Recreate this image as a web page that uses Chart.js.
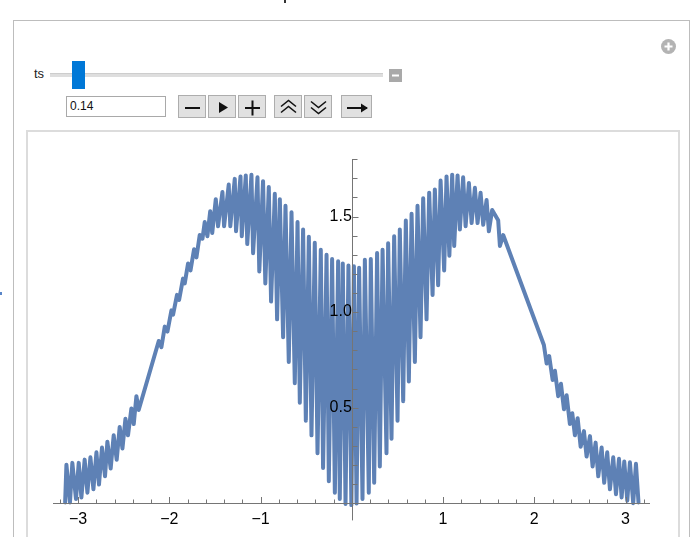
<!DOCTYPE html>
<html lang="en">
<head>
<meta charset="UTF-8">
<title>ts</title>
<style>
  body { margin: 0; width: 695px; height: 537px; overflow: hidden; position: relative; background: #fff;
         font-family: "Liberation Sans", Arial, sans-serif; }
  .a { position: absolute; box-sizing: border-box; }
  #outer { left: 13px; top: 20px; width: 677px; height: 560px; border: 1px solid #bdbdbd; }
  #plotbox { left: 26px; top: 130px; width: 654px; height: 420px; border: 2px solid #dcdcdc; }
  .btn { top: 95px; height: 23px; background: #e1e1e1; border: 1px solid #adadad; }
  .btn svg { position: absolute; left: 0; top: 0; }
</style>
</head>
<body>
  <div class="a" style="left:284px;top:0;width:2px;height:3px;background:#333"></div>
  <div class="a" style="left:0;top:292px;width:2px;height:3px;background:#5a86c8"></div>

  <div class="a" id="outer"></div>

  <!-- plus icon top right -->
  <svg class="a" style="left:660px;top:38px" width="17" height="17">
    <circle cx="8.5" cy="8.5" r="7.5" fill="#b3b3b3"/>
    <path d="M8.5 4.5 V12.5 M4.5 8.5 H12.5" stroke="#fff" stroke-width="2.2"/>
  </svg>

  <!-- slider -->
  <div class="a" style="left:34px;top:66px;font-size:13px;color:#222">ts</div>
  <div class="a" style="left:50px;top:73px;width:333px;height:4px;background:#dedede;border-top:1px solid #cdcdcd"></div>
  <div class="a" style="left:72px;top:61px;width:13px;height:28px;background:#0078d7"></div>
  <svg class="a" style="left:389px;top:69px" width="13" height="13">
    <rect width="13" height="13" fill="#a9a9a9"/>
    <path d="M3 6.5 H10" stroke="#fff" stroke-width="2"/>
  </svg>

  <!-- value field and buttons -->
  <div class="a" style="left:66px;top:96px;width:100px;height:21px;border:1px solid #a9a9a9;font-size:12px;line-height:19px;padding-left:3px;color:#111">0.14</div>

  <div class="a btn" style="left:178px;width:28px">
    <svg width="28" height="23"><path d="M6 12 H21" stroke="#111" stroke-width="2"/></svg>
  </div>
  <div class="a btn" style="left:208px;width:28px">
    <svg width="28" height="23"><path d="M10 6 L19 11.5 L10 17 Z" fill="#111"/></svg>
  </div>
  <div class="a btn" style="left:238px;width:28px">
    <svg width="28" height="23"><path d="M6 12 H21 M13.5 4.5 V19.5" stroke="#111" stroke-width="2"/></svg>
  </div>
  <div class="a btn" style="left:274px;width:28px">
    <svg width="28" height="23"><path d="M6 10.5 L13.5 4.5 L21 10.5 M6 16.5 L13.5 10.5 L21 16.5" stroke="#111" stroke-width="1.6" fill="none"/></svg>
  </div>
  <div class="a btn" style="left:304px;width:28px">
    <svg width="28" height="23"><path d="M6 5.5 L13.5 11.5 L21 5.5 M6 11.5 L13.5 17.5 L21 11.5" stroke="#111" stroke-width="1.6" fill="none"/></svg>
  </div>
  <div class="a btn" style="left:341px;width:31px">
    <svg width="31" height="23"><path d="M5 12 H25" stroke="#111" stroke-width="2"/><path d="M19 7.5 L26 12 L19 16.5 Z" fill="#111"/></svg>
  </div>

  <div class="a" id="plotbox"></div>
  <canvas id="plot" class="a" width="650" height="405" style="left:28px;top:132px"></canvas>

<script src="https://cdn.jsdelivr.net/npm/chart.js"></script>
<script>
  // curve (peaks and dips in order)
  const curveX = [
    -3.142, -3.128, -3.089, -3.063, -3.023, -2.993, -2.964, -2.928, -2.898, -2.865,
    -2.832, -2.799, -2.771, -2.738, -2.705, -2.679, -2.643, -2.610, -2.577, -2.544,
    -2.514, -2.481, -2.453, -2.416, -2.390, -2.361, -2.336,
    -2.116, -2.087, -2.050, -2.021, -1.977, -1.959, -1.916, -1.893, -1.850, -1.831,
    -1.795, -1.768, -1.729, -1.703, -1.667, -1.637, -1.612, -1.583, -1.552, -1.530,
    -1.491, -1.466, -1.418, -1.400, -1.349, -1.332, -1.283, -1.269, -1.220, -1.206,
    -1.162, -1.146, -1.100, -1.082, -1.034, -1.014, -0.973, -0.948, -0.910, -0.885,
    -0.844, -0.819, -0.789, -0.753, -0.727, -0.691, -0.661, -0.625, -0.595, -0.570,
    -0.534, -0.504, -0.471, -0.442, -0.406, -0.376, -0.340, -0.315, -0.277, -0.252,
    -0.216, -0.186, -0.150, -0.132, -0.099, -0.069, -0.037, -0.005,
    0.023, 0.052, 0.080, 0.117, 0.143, 0.186, 0.208, 0.245, 0.277, 0.307,
    0.337, 0.380, 0.398, 0.435, 0.464, 0.501, 0.526, 0.563, 0.592, 0.625,
    0.655, 0.691, 0.720, 0.753, 0.782, 0.819, 0.848, 0.885, 0.910, 0.946,
    0.973, 1.012, 1.038, 1.069, 1.100, 1.122, 1.159, 1.184, 1.220, 1.247,
    1.283, 1.313, 1.349, 1.378, 1.411, 1.440, 1.477, 1.502, 1.538,
    1.604, 1.623, 1.659,
    2.105, 2.135, 2.163, 2.201, 2.226, 2.262, 2.292, 2.325, 2.354, 2.390,
    2.416, 2.445, 2.475, 2.508, 2.544, 2.573, 2.610, 2.639, 2.672, 2.701,
    2.738, 2.766, 2.799, 2.829, 2.865, 2.895, 2.928, 2.957, 2.986, 3.019,
    3.048, 3.084, 3.114, 3.142
  ];
  const curveY = [
    0.004, 0.201, 0.004, 0.211, 0.022, 0.211, 0.030, 0.228, 0.055, 0.240,
    0.073, 0.266, 0.098, 0.291, 0.141, 0.322, 0.181, 0.355, 0.227, 0.399,
    0.286, 0.442, 0.355, 0.496, 0.414, 0.560, 0.488,
    0.849, 0.816, 0.924, 0.898, 1.009, 0.987, 1.090, 1.064, 1.175, 1.150,
    1.254, 1.218, 1.329, 1.286, 1.403, 1.384, 1.471, 1.397, 1.528, 1.414,
    1.591, 1.449, 1.628, 1.449, 1.667, 1.449, 1.697, 1.423, 1.710, 1.397,
    1.715, 1.356, 1.719, 1.308, 1.705, 1.213, 1.685, 1.150, 1.654, 1.055,
    1.619, 0.962, 1.591, 0.868, 1.556, 0.739, 1.522, 0.628, 1.471, 0.526,
    1.432, 0.432, 1.394, 0.355, 1.363, 0.261, 1.326, 0.184, 1.300, 0.115,
    1.278, 0.055, 1.266, 0.022, 1.254, -0.004, 1.244, -0.010,
    1.240, -0.001, 1.232, 0.022, 1.274, 0.055, 1.278, 0.107, 1.309, 0.192,
    1.326, 0.261, 1.360, 0.337, 1.397, 0.432, 1.432, 0.534, 1.479, 0.637,
    1.514, 0.739, 1.556, 0.868, 1.596, 0.962, 1.625, 1.090, 1.642, 1.141,
    1.688, 1.218, 1.710, 1.295, 1.719, 1.346, 1.715, 1.432, 1.705, 1.449,
    1.676, 1.466, 1.650, 1.466, 1.625, 1.457, 1.586, 1.423, 1.534,
    1.481, 1.346, 1.403,
    0.828, 0.731, 0.770, 0.645, 0.693, 0.560, 0.625, 0.491, 0.565, 0.414,
    0.471, 0.355, 0.445, 0.295, 0.377, 0.244, 0.351, 0.192, 0.317, 0.141,
    0.291, 0.107, 0.266, 0.073, 0.240, 0.047, 0.232, 0.030, 0.218, 0.013,
    0.214, 0.000, 0.206, 0.004
  ];

  const xTicks = [-3.2, -3.0, -2.8, -2.6, -2.4, -2.2, -2.0, -1.8, -1.6, -1.4, -1.2, -1.0, -0.8, -0.6, -0.4, -0.2,
                  0.2, 0.4, 0.6, 0.8, 1.0, 1.2, 1.4, 1.6, 1.8, 2.0, 2.2, 2.4, 2.6, 2.8, 3.0, 3.2];
  const xLabels = [-3, -2, -1, 1, 2, 3];
  const yTicks = [0.1, 0.2, 0.3, 0.4, 0.5, 0.6, 0.7, 0.8, 0.9, 1.0, 1.1, 1.2, 1.3, 1.4, 1.5, 1.6, 1.7, 1.8];
  const yLabels = [0.5, 1.0, 1.5];

  const lineColor = '#5e81b5';
  const axisColor = '#757575';
  const isIn = (arr, v) => arr.some(a => Math.abs(a - v) < 1e-6);

  // Mathematica style axes: lines through origin, ticks pointing inward
  const axesAtOrigin = {
    id: 'axesAtOrigin',
    afterDatasetsDraw(chart) {
      const { ctx, chartArea, scales: { x, y } } = chart;
      const x0 = Math.round(x.getPixelForValue(0)) + 0.5;
      const y0 = Math.round(y.getPixelForValue(0)) + 0.5;
      ctx.save();
      ctx.strokeStyle = axisColor;
      ctx.lineWidth = 1;
      ctx.beginPath();
      ctx.moveTo(chartArea.left, y0);
      ctx.lineTo(chartArea.right, y0);
      ctx.moveTo(x0, chartArea.top);
      ctx.lineTo(x0, chartArea.bottom);
      x.ticks.forEach(t => {
        const px = Math.round(x.getPixelForValue(t.value)) + 0.5;
        const len = isIn(xLabels, t.value) ? 6.5 : 4;
        ctx.moveTo(px, y0);
        ctx.lineTo(px, y0 - len);
      });
      y.ticks.forEach(t => {
        const py = Math.round(y.getPixelForValue(t.value)) + 0.5;
        const len = isIn(yLabels, t.value) ? 6 : 5;
        ctx.moveTo(x0, py);
        ctx.lineTo(x0 + len, py);
      });
      ctx.stroke();
      ctx.restore();
    }
  };

  new Chart(document.getElementById('plot'), {
    type: 'scatter',
    data: {
      datasets: [{
        data: curveX.map((x, i) => ({ x: x, y: curveY[i] })),
        showLine: true,
        borderColor: lineColor,
        borderWidth: 4,
        borderJoinStyle: 'round',
        borderCapStyle: 'round',
        tension: 0,
        pointRadius: 0
      }]
    },
    options: {
      responsive: false,
      animation: false,
      events: [],
      layout: { padding: { left: 25, right: 28, top: 27, bottom: 9 } },
      plugins: { legend: { display: false }, tooltip: { enabled: false } },
      scales: {
        x: {
          type: 'linear',
          min: -3.275,
          max: 3.268,
          position: { y: 0 },
          afterFit: (s) => { s.height = 0; },
          afterBuildTicks: (s) => { s.ticks = xTicks.map(v => ({ value: v })); },
          grid: { display: false, drawTicks: false },
          border: { display: false },
          ticks: {
            z: 1,
            autoSkip: false,
            maxRotation: 0,
            minRotation: 0,
            padding: 7,
            color: '#000',
            font: { family: '"Liberation Sans", Arial, sans-serif', size: 16 },
            callback: (v) => isIn(xLabels, v) ? (v < 0 ? '\u2212' + Math.abs(Math.round(v)) : String(Math.round(v))) : ''
          }
        },
        y: {
          type: 'linear',
          min: -0.09,
          max: 1.801,
          position: { x: 0 },
          afterFit: (s) => { s.width = 0; },
          afterBuildTicks: (s) => { s.ticks = yTicks.map(v => ({ value: v })); },
          grid: { display: false, drawTicks: false },
          border: { display: false },
          ticks: {
            z: 1,
            autoSkip: false,
            padding: 7,
            color: '#000',
            font: { family: '"Liberation Sans", Arial, sans-serif', size: 16 },
            callback: (v) => isIn(yLabels, v) ? v.toFixed(1) : ''
          }
        }
      }
    },
    plugins: [axesAtOrigin]
  });
</script>
</body>
</html>
